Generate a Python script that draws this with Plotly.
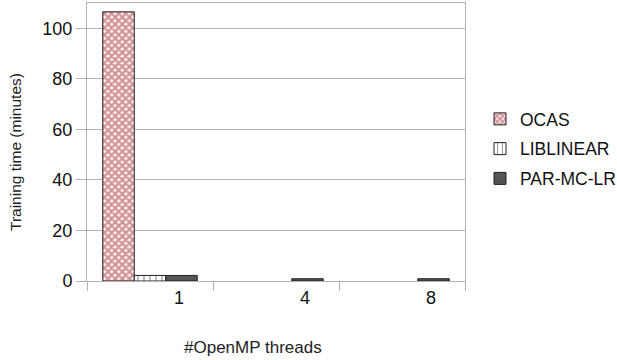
import plotly.graph_objects as go

threads = ["1", "4", "8"]
ocas = [106.5, None, None]
liblinear = [2.2, None, None]
parmclr = [2.2, 0.9, 0.9]

L, R, T, B = 87, 465, 3, 281
W, H = 617, 360
pw, ph = R - L, B - T

fig = go.Figure()
fig.add_trace(go.Bar(
    name="OCAS", x=threads, y=ocas, legendgroup="a",
    marker=dict(color="white", line=dict(color="#222222", width=1),
                pattern=dict(shape="x", fgcolor="#a8363b", bgcolor="#fbeeee", size=5, solidity=0.65)),
))
fig.add_trace(go.Bar(
    name="LIBLINEAR", x=threads, y=liblinear, legendgroup="b",
    marker=dict(color="white", line=dict(color="#222222", width=1),
                pattern=dict(shape="|", fgcolor="#222222", bgcolor="white", size=6, solidity=0.2)),
))
fig.add_trace(go.Bar(
    name="PAR-MC-LR", x=threads, y=parmclr, legendgroup="c",
    marker=dict(color="#555555", line=dict(color="#222222", width=1)),
))

fig.update_layout(
    width=W, height=H,
    margin=dict(l=L, r=W - R, t=T, b=H - B, autoexpand=False),
    paper_bgcolor="white", plot_bgcolor="white",
    barmode="group", bargap=0.25, bargroupgap=0,
    font=dict(family="Liberation Sans, Arial, sans-serif", size=18, color="#111111"),
    showlegend=True,
    legend=dict(x=(480 - L) / pw, y=(281 - 149) / ph, xanchor="left", yanchor="middle",
                font=dict(size=17.5), itemwidth=30, tracegroupgap=4, traceorder="grouped",
                bgcolor="rgba(0,0,0,0)"),
)
fig.update_xaxes(
    showline=True, linecolor="#b3b3b3", linewidth=1, mirror=True,
    ticks="outside", tickson="boundaries", ticklen=9, tickcolor="#b3b3b3",
    showgrid=False, ticklabelshift=29, tickfont=dict(size=18),
)
fig.update_yaxes(
    range=[0, 110], dtick=20, showline=True, linecolor="#b3b3b3", linewidth=1, mirror=True,
    ticks="outside", ticklen=10, tickcolor="#b3b3b3",
    showgrid=True, gridcolor="#b3b3b3", gridwidth=1, zeroline=False,
    tickfont=dict(size=18),
)
fig.add_annotation(text="#OpenMP threads", xref="paper", yref="paper",
                   x=(253 - L) / pw, y=-(347 - B) / ph,
                   xanchor="center", yanchor="middle", showarrow=False,
                   font=dict(size=17, color="#222222"))
fig.add_annotation(text="Training time (minutes)", xref="paper", yref="paper",
                   x=-(L - 15) / pw, y=(B - 152) / ph,
                   xanchor="center", yanchor="middle", textangle=-90, showarrow=False,
                   font=dict(size=15.5, color="#222222"))

fig.write_html("out.html", config={"displayModeBar": False},
               post_script="document.body.style.margin='0';document.body.style.padding='0';")
